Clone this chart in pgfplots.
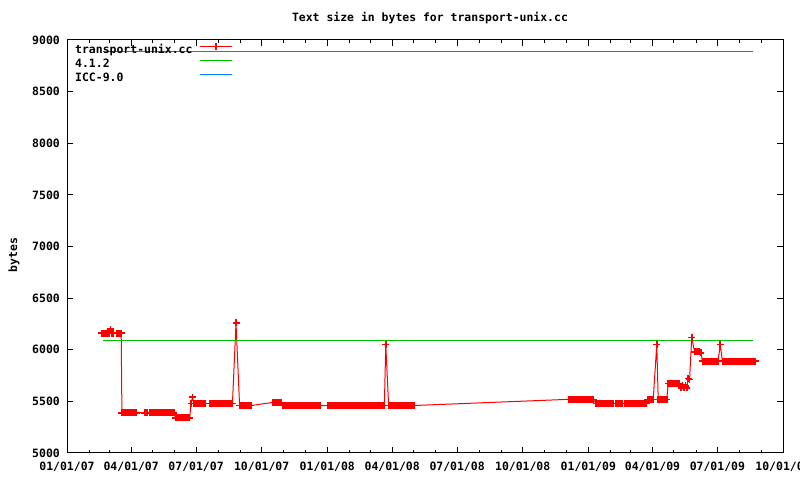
\documentclass[border=0pt]{standalone}
\usepackage{pgfplots}
\pgfplotsset{compat=1.18}
\usepackage{fontspec}
\setmainfont{DejaVu Sans Mono}
\definecolor{gpred}{RGB}{255,0,0}
\definecolor{gpgreen}{RGB}{0,192,0}
\definecolor{gpblue}{RGB}{0,128,255}
\newcommand{\gpfont}{\fontsize{11.5}{12}\selectfont\bfseries}
\begin{document}
\begin{tikzpicture}
\useasboundingbox (0,0) rectangle (800bp,480bp);
\node[font=\gpfont] at (430bp,462bp) {Text size in bytes for transport-unix.cc};
\node[font=\gpfont, rotate=90] at (14bp,225bp) {bytes};
\begin{axis}[
  at={(67bp,27bp)}, anchor=south west,
  scale only axis, width=716bp, height=413bp,
  xmin=0, xmax=1004, ymin=5000, ymax=9000,
  xtick={0,90,181,273,365,456,547,639,731,821,912,1004},
  xticklabels={01/01/07,04/01/07,07/01/07,10/01/07,01/01/08,04/01/08,07/01/08,10/01/08,01/01/09,04/01/09,07/01/09,10/01/09},
  minor xtick={31,59,120,151,212,243,304,334,396,425,486,517,578,609,670,700,762,790,851,882,943,974},
  ytick={5000,5500,6000,6500,7000,7500,8000,8500,9000},
  tick align=inside,
  major tick length=6bp, minor tick length=3bp,
  every tick/.style={black, line width=1bp},
  axis line style={black, line width=1bp},
  /pgf/number format/assume math mode=true,
  /pgf/number format/1000 sep={},
  tick label style={font=\gpfont},
  yticklabel style={anchor=east, inner sep=0pt, xshift=-7bp},
  xticklabel style={anchor=north, inner sep=0pt, yshift=-9bp},
  legend style={at={(0,1)}, anchor=north west, xshift=8bp, yshift=-3bp,
    draw=none, fill=none, inner sep=0pt, row sep=4bp, font=\gpfont,
    nodes={inner sep=0pt, text height=8bp, text depth=2bp},
    /tikz/every odd column/.style={column sep=7bp}},
  legend plot pos=right, legend cell align=left,
  legend image code/.code={\draw[mark repeat=2,mark phase=2,#1] plot coordinates {(0bp,4bp)(16bp,4bp)(32bp,4bp)};},
]
\addplot[gpred, line width=1bp, mark=+, mark size=3.5bp, mark options={line width=1.6bp}] coordinates {
(49,6160)(51,6160)(53,6160)(55,6160)(57,6160)(59,6160)(61,6200)(63,6160)(65,6160)(70,6160)(72,6160)(74,6160)(76,6160)
(77,5390)(79,5390)(81,5390)(83,5390)(85,5390)(87,5390)(89,5390)(91,5390)(93,5390)(95,5390)(97,5390)
(109,5390)(111,5390)(113,5390)(116,5390)(118,5390)(120,5390)(122,5390)(124,5390)(126,5390)(128,5390)(130,5390)
(132,5390)(134,5390)(136,5390)(138,5390)(140,5390)(142,5390)(144,5390)(146,5390)(148,5390)(150,5390)
(152,5340)(154,5340)(156,5340)(158,5340)(160,5340)(162,5340)(164,5340)(166,5340)(168,5340)(170,5340)(172,5340)
(174,5480)(176,5540)(178,5480)(180,5480)(182,5480)(184,5480)(186,5480)(188,5480)(190,5480)(192,5480)(194,5480)
(200,5480)(202,5480)(204,5480)(206,5480)(208,5480)(210,5480)(212,5480)(214,5480)(216,5480)(218,5480)(220,5480)
(222,5480)(224,5480)(226,5480)(228,5480)(230,5480)(232,5480)
(237,6260)
(242,5460)(244,5460)(246,5460)(248,5460)(250,5460)(252,5460)(254,5460)(256,5460)(258,5460)
(289,5490)(291,5490)(293,5490)(295,5490)(297,5490)(299,5490)(301,5490)
(303,5460)(305,5460)(307,5460)(309,5460)(311,5460)(313,5460)(315,5460)(317,5460)(319,5460)(321,5460)(323,5460)
(325,5460)(327,5460)(329,5460)(331,5460)(333,5460)(335,5460)(337,5460)(339,5460)(341,5460)(343,5460)(345,5460)
(347,5460)(349,5460)(351,5460)(353,5460)(355,5460)
(365,5460)(367,5460)(369,5460)(371,5460)(373,5460)(375,5460)(377,5460)(379,5460)(381,5460)(383,5460)(385,5460)
(387,5460)(389,5460)(391,5460)(393,5460)(395,5460)(397,5460)(399,5460)(401,5460)(403,5460)(405,5460)(407,5460)
(409,5460)(411,5460)(413,5460)(415,5460)(417,5460)(419,5460)(421,5460)(423,5460)(425,5460)(427,5460)(429,5460)
(431,5460)(433,5460)(435,5460)(437,5460)(439,5460)(441,5460)(443,5460)(445,5460)
(447,6050)
(451,5460)(453,5460)(455,5460)(457,5460)(459,5460)(461,5460)(463,5460)(465,5460)(467,5460)(469,5460)(471,5460)
(473,5460)(475,5460)(477,5460)(479,5460)(481,5460)(483,5460)(485,5460)(487,5460)
(704,5520)(706,5520)(708,5520)(710,5520)(712,5520)(714,5520)(716,5520)(718,5520)(720,5520)(722,5520)(724,5520)
(726,5520)(728,5520)(730,5520)(732,5520)(734,5520)(736,5520)(738,5520)
(742,5480)(744,5480)(746,5480)(748,5480)(750,5480)(752,5480)(754,5480)(756,5480)(758,5480)(760,5480)(762,5480)
(764,5480)(766,5480)(769,5480)(771,5480)(773,5480)(775,5480)(777,5480)(779,5480)
(782,5480)(784,5480)(786,5480)(788,5480)(790,5480)(792,5480)(794,5480)(796,5480)(798,5480)(800,5480)(802,5480)
(804,5480)(806,5480)(808,5480)(810,5480)(812,5480)
(814,5520)(816,5520)(818,5520)(820,5520)(822,5520)
(827,6050)
(829,5520)(831,5520)(833,5520)(835,5520)(837,5520)(839,5520)(841,5520)
(843,5675)(845,5675)(847,5675)(849,5675)(851,5675)(853,5675)(855,5675)(857,5675)(859,5675)
(861,5630)(863,5650)(865,5630)(867,5650)(869,5630)(871,5720)(873,5710)
(876,6120)
(880,5980)(882,5980)(884,5980)(886,5980)(889,5970)
(891,5890)(893,5890)(895,5890)(897,5890)(899,5890)(901,5890)(903,5890)(905,5890)(907,5890)(909,5890)(911,5890)(913,5890)
(916,6050)
(919,5890)(921,5890)(923,5890)(925,5890)(927,5890)(929,5890)(931,5890)(933,5890)(935,5890)(937,5890)(939,5890)
(941,5890)(943,5890)(945,5890)(947,5890)(949,5890)(951,5890)(953,5890)(955,5890)(957,5890)(959,5890)(961,5890)
(963,5890)(965,5890)
};
\addlegendentry{transport-unix.cc}
\addplot[gpgreen, line width=1bp] coordinates {(50,6090)(962,6090)};
\addlegendentry{4.1.2}
\addplot[gpblue, line width=1bp] coordinates {(50,8890)(962,8890)};
\addlegendentry{ICC-9.0}
\end{axis}
\end{tikzpicture}
\end{document}
